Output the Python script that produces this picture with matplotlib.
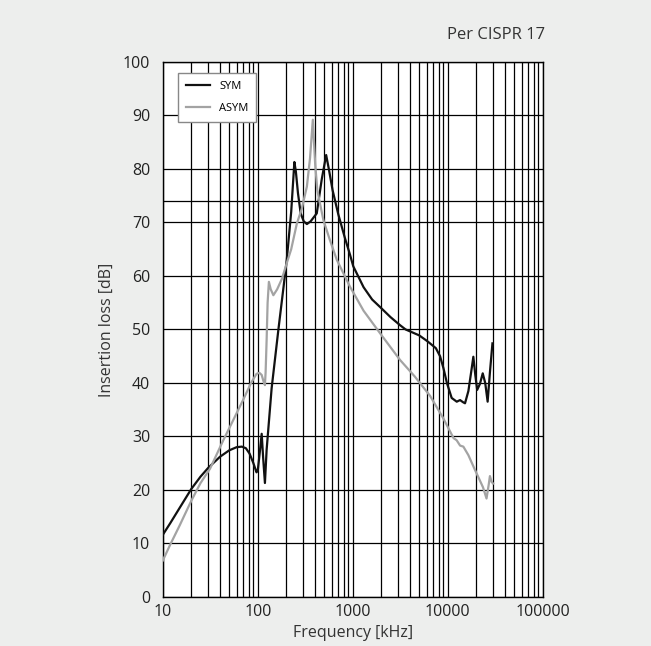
import matplotlib
matplotlib.use('Agg')
import matplotlib.pyplot as plt
from matplotlib.ticker import FixedLocator, LogLocator, NullFormatter
import numpy as np

plt.rcParams['font.family'] = ['Open Sans', 'DejaVu Sans']

# SYM curve (frequency kHz, insertion loss dB)
sym_f = [10, 12, 15, 20, 25, 30, 40, 50, 60, 68, 75, 82, 90, 97, 100, 105, 110,
         114, 119, 124, 140, 165, 193, 202, 225, 243, 252, 265, 283, 305, 329,
         360, 418, 471, 525, 560, 614, 705, 830, 935, 1013, 1300, 1600, 1938,
         2500, 3147, 3600, 4180, 5000, 6000, 6510, 7500, 8300, 9000, 9800,
         11000, 12440, 13480, 14500, 15200, 16500, 17800, 18600, 19500, 20400,
         21800, 23350, 24800, 26300, 27800, 29550]
sym_db = [11.6, 13.8, 16.6, 20.2, 22.5, 24.1, 26.2, 27.4, 28.0, 28.1, 27.8,
          26.8, 25.0, 23.3, 23.6, 27.0, 30.5, 26.0, 21.3, 27.5, 39.0, 50.0,
          60.0, 63.0, 72.0, 81.3, 79.5, 75.5, 71.7, 70.2, 69.7, 70.2, 71.7,
          78.0, 82.6, 80.0, 76.0, 71.5, 67.0, 64.0, 61.8, 57.9, 55.6, 54.2,
          52.3, 50.8, 50.0, 49.5, 48.9, 47.9, 47.4, 46.5, 45.0, 42.8, 40.0,
          37.2, 36.5, 36.8, 36.4, 36.2, 38.5, 42.5, 44.9, 41.5, 38.7, 39.8,
          41.8, 40.0, 36.5, 42.0, 47.4]

# ASYM curve
asym_f = [10, 12, 15, 20, 25, 31.5, 43.4, 55, 70, 85, 97, 104, 110, 115, 119,
          121, 124, 127, 131, 137, 146, 160, 180, 202, 225, 258, 290, 329, 355,
          380, 402, 424, 490, 575, 680, 935, 1300, 1938, 3147, 4500, 6510, 8970,
          11500, 12400, 13480, 14600, 16500, 19400, 21500, 23500, 25600, 27000,
          27800, 29000, 30000]
asym_db = [6.8, 9.8, 13.3, 18.0, 21.3, 24.0, 29.3, 33.0, 36.8, 40.0, 41.7,
           41.9, 41.5, 40.3, 39.6, 42.0, 48.0, 55.0, 58.9, 57.5, 56.4, 57.5,
           59.5, 62.4, 65.0, 69.8, 72.5, 76.7, 82.0, 89.2, 81.0, 76.0, 70.5,
           66.7, 63.0, 58.0, 53.5, 49.3, 44.3, 41.2, 37.6, 33.4, 29.7, 29.3,
           28.3, 28.1, 26.5, 23.7, 22.0, 20.5, 18.4, 21.0, 22.6, 21.5, 21.2]

x_ticks = [10, 100, 1000, 10000, 100000]
y_ticks = list(range(0, 101, 10))

fig = plt.figure(figsize=(6.51, 6.46), dpi=100, facecolor='#edeeed')
ax = fig.add_axes([0.25, 0.0759, 0.5837, 0.8282])
ax.set_facecolor('white')

ax.set_xscale('log')
ax.set_xlim(10, 100000)
ax.set_ylim(0, 100)

ax.xaxis.set_major_locator(FixedLocator(x_ticks))
ax.xaxis.set_minor_locator(LogLocator(base=10, subs=np.arange(2, 10)))
ax.xaxis.set_minor_formatter(NullFormatter())
ax.set_xticklabels([str(t) for t in x_ticks])
ax.set_yticks(y_ticks)

ax.grid(True, which='both', axis='x', color='black', lw=0.9)
ax.grid(True, which='major', axis='y', color='black', lw=0.9)
ax.axhline(74, color='black', lw=0.9)

ax.tick_params(which='both', length=0, labelsize=11.5, colors='#222222')
ax.tick_params(axis='y', pad=9)
ax.tick_params(axis='x', pad=5)
for s in ax.spines.values():
    s.set_color('black')
    s.set_linewidth(1.0)

ax.plot(sym_f, sym_db, color='#111111', lw=1.6, label='SYM', zorder=3)
ax.plot(asym_f, asym_db, color='#a3a3a3', lw=1.6, label='ASYM', zorder=3)

leg = ax.legend(loc='upper left', bbox_to_anchor=(0.04, 0.979), fontsize=8,
                fancybox=False, framealpha=1, edgecolor='#888888',
                handlelength=2.2, borderpad=0.7, labelspacing=1.0,
                borderaxespad=0)
leg.get_frame().set_linewidth(1.0)

ax.set_xlabel('Frequency [kHz]', fontsize=11.5, color='#333333', labelpad=4)
ax.set_ylabel('Insertion loss [dB]', fontsize=11.5, color='#333333', labelpad=6)

fig.text(0.838, 0.946, 'Per CISPR 17', ha='right', va='center', fontsize=12,
         color='#333333')

fig.savefig('out.png', dpi=100, facecolor=fig.get_facecolor())
